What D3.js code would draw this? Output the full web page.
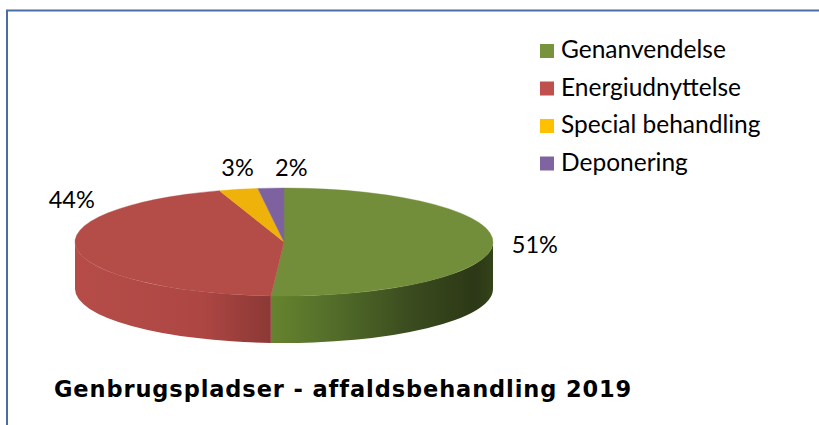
<!DOCTYPE html>
<html>
<head>
<meta charset="utf-8">
<script src="https://cdn.jsdelivr.net/npm/d3@7"></script>
<style>
  html, body { margin: 0; padding: 0; background: #ffffff; overflow: hidden; }
  svg { display: block; }
</style>
</head>
<body>
<svg id="chart" width="819" height="425"></svg>
<script>
// ---- data ----
const categories = ["Genanvendelse", "Energiudnyttelse", "Special behandling", "Deponering"];
const values = [51, 44, 3, 2];
const valueLabels = ["51%", "44%", "3%", "2%"];
const title = "Genbrugspladser - affaldsbehandling 2019";

// ---- styles / layout ----
const legendColors = ["#77933c", "#c0504d", "#ffc000", "#8064a2"];
const topColors = ["#738e3a", "#b44c48", "#efb20a", "#7e62a0"];
const sideStops = [
  [[0, "#6a8a33"], [0.46, "#67852f"], [0.6, "#55702a"], [0.8, "#3b4c1f"], [0.96, "#2c3816"], [1, "#34441a"]],
  [[0, "#b54c48"], [0.3, "#ae4744"], [0.46, "#8d3936"], [1, "#8d3936"]],
  [[0, "#c99600"], [1, "#c99600"]],
  [[0, "#65508a"], [1, "#65508a"]]
];
// label anchor placement relative to the pie center, in units of the pie radii
const labelLayout = [
  { fx: 1.09, fy: 0.2, anchor: "start" },
  { fx: -0.905, fy: -0.63, anchor: "end" },
  { fx: -0.222, fy: -1.22, anchor: "middle" },
  { fx: 0.035, fy: -1.22, anchor: "middle" }
];

const W = 819, H = 425;
const cx = 284, cy = 242, rx = 209, ry = 54, depth = 47;

const svg = d3.select("#chart");
const defs = svg.append("defs");

// outer frame
svg.append("path")
  .attr("d", `M7,${H + 2} L7,10.5 L${W + 2},10.5`)
  .attr("fill", "none")
  .attr("stroke", "#4a6da3")
  .attr("stroke-width", 2);

const pie = d3.pie().sort(null).value(d => d);
const arcs = pie(values);

const pt = (a, dy = 0) => [cx + rx * Math.sin(a), cy - ry * Math.cos(a) + dy];

// side gradients
arcs.forEach((d, i) => {
  const g = defs.append("linearGradient")
    .attr("id", "side" + i)
    .attr("gradientUnits", "userSpaceOnUse")
    .attr("x1", cx - rx).attr("x2", cx + rx)
    .attr("y1", 0).attr("y2", 0);
  sideStops[i].forEach(s => g.append("stop").attr("offset", s[0]).attr("stop-color", s[1]));
});

// sides (front half only: angles between PI/2 and 3PI/2)
const sideG = svg.append("g");
arcs.forEach((d, i) => {
  const s = Math.max(d.startAngle, Math.PI / 2);
  const e = Math.min(d.endAngle, 3 * Math.PI / 2);
  if (e <= s) return;
  const p0 = pt(s), p1 = pt(e), q1 = pt(e, depth), q0 = pt(s, depth);
  const path = `M${p0[0]},${p0[1]} A${rx},${ry} 0 0 1 ${p1[0]},${p1[1]} L${q1[0]},${q1[1]} A${rx},${ry} 0 0 0 ${q0[0]},${q0[1]} Z`;
  sideG.append("path")
    .attr("d", path)
    .attr("fill", `url(#side${i})`);
});

// top face
const arc = d3.arc().innerRadius(0).outerRadius(rx);
svg.append("g")
  .attr("transform", `translate(${cx},${cy}) scale(1,${ry / rx})`)
  .selectAll("path")
  .data(arcs)
  .join("path")
  .attr("d", arc)
  .attr("fill", (d, i) => topColors[i])
  .attr("stroke", (d, i) => topColors[i])
  .attr("stroke-width", 0.6);

// value labels
const labelFont = "Lato, 'Open Sans', sans-serif";
svg.append("g")
  .selectAll("text")
  .data(arcs)
  .join("text")
  .attr("x", (d, i) => cx + labelLayout[i].fx * rx)
  .attr("y", (d, i) => cy + labelLayout[i].fy * ry)
  .attr("text-anchor", (d, i) => labelLayout[i].anchor)
  .attr("font-family", labelFont)
  .attr("font-size", 23.5)
  .attr("fill", "#000")
  .text((d, i) => valueLabels[i]);

// legend
const legend = svg.append("g").attr("transform", "translate(540,44)");
const rowH = 37.5;
const items = legend.selectAll("g").data(categories).join("g")
  .attr("transform", (d, i) => `translate(0,${i * rowH})`);
items.append("rect")
  .attr("width", 14).attr("height", 14)
  .attr("fill", (d, i) => legendColors[i]);
items.append("text")
  .attr("x", 21).attr("y", 14)
  .attr("font-family", labelFont)
  .attr("font-size", 24.5)
  .attr("fill", "#000")
  .text(d => d);

// title
svg.append("text")
  .attr("x", 54).attr("y", 397)
  .attr("font-family", "'DejaVu Sans', Verdana, sans-serif")
  .attr("font-weight", "bold")
  .attr("font-size", 22.5)
  .attr("letter-spacing", 0.9)
  .attr("fill", "#000")
  .text(title);
</script>
</body>
</html>
